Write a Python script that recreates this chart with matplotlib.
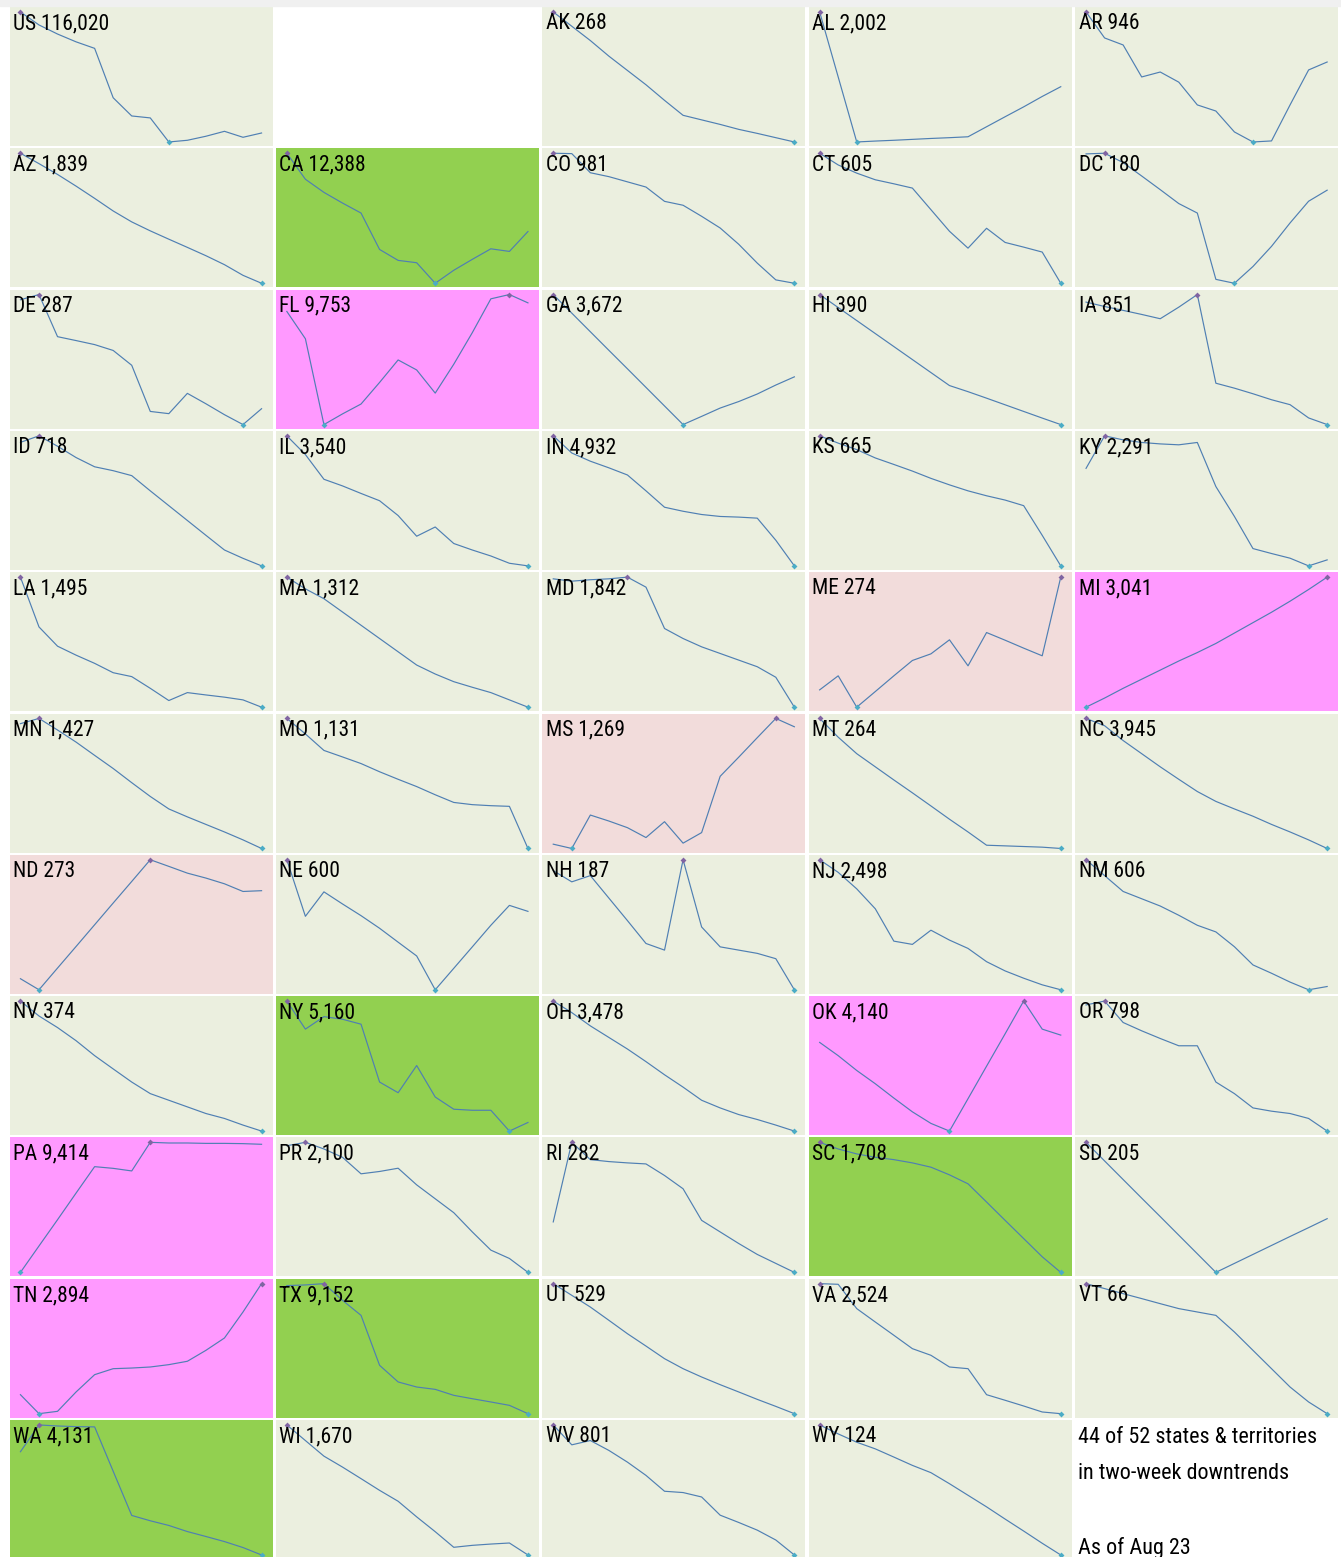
import matplotlib.pyplot as plt
from matplotlib import font_manager
from matplotlib.font_manager import FontProperties

# grid order, 5 columns x 11 rows ("" = empty cell)
codes = ["US", "", "AK", "AL", "AR",
         "AZ", "CA", "CO", "CT", "DC",
         "DE", "FL", "GA", "HI", "IA",
         "ID", "IL", "IN", "KS", "KY",
         "LA", "MA", "MD", "ME", "MI",
         "MN", "MO", "MS", "MT", "NC",
         "ND", "NE", "NH", "NJ", "NM",
         "NV", "NY", "OH", "OK", "OR",
         "PA", "PR", "RI", "SC", "SD",
         "TN", "TX", "UT", "VA", "VT",
         "WA", "WI", "WV", "WY"]
totals = ["116,020", "", "268", "2,002", "946",
          "1,839", "12,388", "981", "605", "180",
          "287", "9,753", "3,672", "390", "851",
          "718", "3,540", "4,932", "665", "2,291",
          "1,495", "1,312", "1,842", "274", "3,041",
          "1,427", "1,131", "1,269", "264", "3,945",
          "273", "600", "187", "2,498", "606",
          "374", "5,160", "3,478", "4,140", "798",
          "9,414", "2,100", "282", "1,708", "205",
          "2,894", "9,152", "529", "2,524", "66",
          "4,131", "1,670", "801", "124"]

# 14 daily values per sparkline (relative height)
US = [100, 90, 83, 77, 72, 34, 20, 18.5, 0, 1.3, 4.4, 8.2, 3.6, 6.9]
AK = [100, 89, 78, 66, 55, 44, 32, 20.5, 17, 13.5, 9.7, 6.6, 3.3, 0]
AL = [100, 50, 0, 0.7, 1.3, 2, 2.7, 3.3, 4, 11.7, 19.4, 27, 35, 42.5]
AR = [100, 80, 74.6, 50, 53.8, 46, 28.5, 23.8, 7.7, 0, 0.8, 28.5, 55.4, 61.5]
AZ = [100, 92, 83.7, 74.7, 65.3, 55.6, 47.2, 40.3, 33.9, 27.6, 21.2, 14.3, 6.1, 0]
CA = [100, 80, 69.9, 61.7, 54, 26, 17.6, 15.8, 0, 10, 18.4, 26.5, 24.5, 39.8]
CO = [100, 99.7, 85, 82, 78, 74, 63, 60, 51.5, 42.5, 30, 15.5, 2.6, 0]
CT = [100, 91, 84.7, 79.6, 76.5, 73.2, 56.6, 40, 27, 42.3, 31.4, 27.8, 24, 0]
DC = [99.5, 100, 92.8, 82.5, 72, 61.3, 54, 3, 0, 12.9, 28.4, 46.4, 63.1, 71.6]
DE = [96, 100, 67.6, 64.6, 61.5, 57, 45.6, 10.1, 8.4, 24, 16, 7.6, 0, 12.2]
FL = [87, 66, 0, 8.2, 15.8, 32.4, 49.7, 42, 24.2, 46.4, 70.7, 96.7, 100, 93.6]
GA = [100, 85.7, 71.4, 57.1, 42.9, 28.6, 14.3, 0, 6.3, 12.7, 17.7, 23.5, 30.4, 36.7]
HI = [100, 90, 80, 70, 60, 50, 40, 30, 25.3, 20.3, 15.2, 10.1, 5, 0]
IA = [94.2, 90.8, 87.8, 84.7, 81.4, 90.3, 100, 31.8, 28, 23.7, 19.1, 15.3, 5.1, 0]
ID = [95, 100, 92, 83.3, 76.2, 73.2, 69.4, 57.7, 46.3, 34.9, 23.5, 12.2, 5.8, 0]
IL = [100, 85.6, 66.6, 61.5, 55.7, 50.1, 38.7, 22.8, 29.9, 17.2, 12.2, 7.6, 2, 0]
IN = [100, 86.8, 80.5, 75.4, 69.9, 57.7, 45.1, 42, 39.5, 38, 37.5, 36.7, 19.7, 0]
KS = [100, 94.4, 89.4, 83, 78, 72.9, 67.3, 62.3, 57.7, 53.9, 50.6, 46.3, 23.5, 0]
KY = [75, 100, 96.9, 94.9, 93.8, 93.1, 94.9, 61, 38, 13.3, 9.5, 5.9, 0, 4.6]
LA = [100, 61.7, 46.9, 40, 33.7, 26.5, 23.5, 14.5, 5.1, 11.2, 9.4, 7.7, 5.6, 0]
MA = [100, 91, 83.4, 73.2, 63, 52.8, 42.6, 32.4, 25.5, 19.6, 15.3, 11.2, 5.6, 0]
MD = [98.7, 96.9, 98, 98.7, 100, 92.3, 60.5, 52.8, 46.4, 41.3, 36.2, 31.1, 23, 0]
ME = [13.3, 24.1, 0, 12, 24.1, 35.9, 41, 51.8, 31.8, 57.4, 51.5, 45.4, 39.5, 100]
MI = [0, 7, 14.5, 21.5, 28.5, 35.5, 42, 49, 57, 65, 73, 81.5, 90.5, 100]
MN = [96, 100, 91.1, 81.8, 71.6, 61.5, 50.6, 40, 30.4, 24.3, 18.5, 12.7, 6.6, 0]
MO = [100, 88.1, 75.4, 70.4, 65.3, 59, 53.2, 47.6, 41.3, 35.4, 33.7, 32.9, 32.4, 0]
MS = [3.3, 0, 25.7, 21.1, 16, 8.4, 20.6, 4.1, 12.2, 55.5, 70.2, 85.2, 100, 93.6]
MT = [100, 85.6, 72.9, 62.8, 52.7, 42.8, 32.7, 22.5, 12.7, 2.5, 2, 1.5, 1, 0]
NC = [100, 94.4, 83, 72.9, 62.8, 53.2, 43.8, 36.2, 30.4, 24.8, 18.5, 12.7, 6.6, 0]
ND = [8.5, 0, 16.7, 33.3, 50, 66.7, 83.3, 100, 94.9, 89.7, 85.9, 81.5, 75.6, 76.2]
NE = [100, 56.5, 75.3, 66, 57, 47.3, 36.6, 26, 0, 16.5, 33, 49.6, 64.9, 60.3]
NH = [91.6, 83, 87.8, 70.5, 53.2, 35.6, 30.5, 100, 48.3, 33, 30.5, 28, 23.9, 0]
NJ = [100, 90.3, 77.6, 62.3, 37.4, 34.9, 45.8, 38.2, 31.8, 21.6, 14.5, 8.9, 3.8, 0]
NM = [100, 87.8, 75.6, 70, 64.4, 57.3, 49.6, 44.5, 33.1, 19.1, 12.7, 5.9, 0, 2.5]
NV = [100, 88.5, 79.6, 69.5, 58, 47.8, 37.7, 28.8, 23.7, 18.6, 13.5, 9.7, 4.6, 0]
NY = [100, 78.4, 88, 86, 82.2, 37.7, 29.5, 50.4, 26.2, 16.8, 16, 16, 0, 6.6]
OH = [100, 91.1, 80.9, 72, 63.1, 53.4, 43.3, 33.8, 23.7, 17.8, 12.7, 8.9, 4.6, 0]
OK = [68.2, 58, 46.6, 36.4, 25.4, 14.8, 5.9, 0, 24.9, 49.9, 74.8, 100, 78.4, 73.8]
OR = [97, 100, 83.5, 77.1, 71.2, 65.6, 65.6, 37.7, 28.8, 17.8, 15.3, 13.5, 9.7, 0]
PA = [0, 20.3, 40.5, 61, 81.3, 80, 78, 100, 99.5, 99.5, 99.2, 99.2, 99, 98.5]
PR = [97.4, 100, 94.9, 88.5, 75.8, 77.6, 80.1, 67.3, 56.6, 45.9, 31.1, 17.1, 10.7, 0]
RI = [38.8, 100, 86.7, 85.2, 84.2, 83.4, 74.5, 64.3, 40, 31.1, 22.2, 13.8, 6.9, 0]
SC = [100, 94.9, 91.1, 88.5, 86.7, 84.2, 80.9, 75, 68.1, 54.1, 40, 26, 12, 0]
SD = [100, 85.7, 71.4, 57.1, 42.9, 28.6, 14.3, 0, 6.9, 13.8, 20.7, 27.6, 34.4, 41.3]
TN = [14.6, 0, 1.8, 16.7, 30, 34.6, 35.1, 35.9, 37.7, 40.3, 48.7, 58.2, 78.2, 100]
TX = [98.5, 99, 100, 87.2, 75.6, 37.2, 24.4, 20.5, 18.7, 14.1, 11.5, 9, 6.4, 0]
UT = [100, 91, 82, 71.8, 61.5, 52, 42.3, 34.6, 28.2, 22.3, 16.7, 11, 5.6, 0]
VA = [100, 99.5, 80.8, 70.5, 60.3, 50, 44.9, 35.9, 34.6, 14.6, 10.3, 5.9, 1.3, 0]
VT = [100, 96.2, 92.3, 88.5, 84.6, 80.8, 78.2, 75.6, 62.8, 48.7, 34.6, 20.5, 9, 0]
WA = [79.4, 100, 99.2, 98.7, 98.5, 64.4, 30.4, 26.3, 22.7, 18, 14.2, 10.3, 5.7, 0]
WI = [100, 88, 76, 67.6, 58.7, 49.7, 41.3, 29.3, 17.9, 5.9, 7.4, 8.4, 9.2, 0]
WV = [100, 84.7, 88, 80.4, 71.4, 61.2, 49, 48, 44.6, 30.6, 25, 19.1, 11.5, 0]
WY = [100, 93.1, 86.7, 81.6, 75.3, 68.9, 63.3, 54.8, 45.9, 37, 27.6, 18.4, 9, 0]

green_states = ["CA", "NY", "SC", "TX", "WA"]
magenta_states = ["FL", "MI", "OK", "PA", "TN"]
pink_states = ["ME", "MS", "ND"]

footer_lines = ["44 of 52 states & territories", "in two-week downtrends"]
footer_date = "As of Aug 23"

series = {
    "US": US, "AK": AK, "AL": AL, "AR": AR, "AZ": AZ, "CA": CA, "CO": CO,
    "CT": CT, "DC": DC, "DE": DE, "FL": FL, "GA": GA, "HI": HI, "IA": IA,
    "ID": ID, "IL": IL, "IN": IN, "KS": KS, "KY": KY, "LA": LA, "MA": MA,
    "MD": MD, "ME": ME, "MI": MI, "MN": MN, "MO": MO, "MS": MS, "MT": MT,
    "NC": NC, "ND": ND, "NE": NE, "NH": NH, "NJ": NJ, "NM": NM, "NV": NV,
    "NY": NY, "OH": OH, "OK": OK, "OR": OR, "PA": PA, "PR": PR, "RI": RI,
    "SC": SC, "SD": SD, "TN": TN, "TX": TX, "UT": UT, "VA": VA, "VT": VT,
    "WA": WA, "WI": WI, "WV": WV, "WY": WY,
}


# look for a narrow / condensed sans, fall back to Liberation Sans
def pick_font():
    prefs = ["Liberation Sans Narrow", "Arial Narrow", "Roboto Condensed",
             "Noto Sans", "Open Sans", "DejaVu Sans"]
    for name in prefs:
        for f in font_manager.fontManager.ttflist:
            if (f.name == name and f.style == "normal"
                    and str(f.stretch) in ("condensed", "semi-condensed")
                    and f.weight in (400, "normal", "regular", "book")):
                return f.fname
    return font_manager.findfont(FontProperties(family="Liberation Sans"))


font_file = pick_font()

W, H = 1341, 1557
fig = plt.figure(figsize=(W / 100, H / 100), dpi=100)
fig.patches.append(plt.Rectangle((0, 1 - 6 / H), 1, 6 / H, transform=fig.transFigure,
                                 color='#f0f0f0', zorder=0))
renderer = fig.canvas.get_renderer()


def fit_size(text, target_px, max_size):
    # size so the text is about target_px wide (capped)
    w = renderer.get_text_width_height_descent(
        text, FontProperties(fname=font_file, size=10), ismath=False)[0]
    return min(max_size, 10 * target_px / w)


label_prop = FontProperties(fname=font_file, size=fit_size("US 116,020", 97, 15.5))
footer_prop = FontProperties(fname=font_file, size=fit_size(footer_lines[0], 236, 17.5))


def panel_axes(i):
    r, c = divmod(i, 5)
    left = 9.5 + c * 266.4
    top = 7 + r * 141.3
    return fig.add_axes([left / W, 1 - (top + 139) / H, 263 / W, 139 / H])


for i, code in enumerate(codes):
    if code == "":
        continue
    ax = panel_axes(i)
    if code in green_states:
        bg = '#92D050'
    elif code in magenta_states:
        bg = '#FF99FF'
    elif code in pink_states:
        bg = '#F2DCDB'
    else:
        bg = '#EBEFDF'
    ax.set_facecolor(bg)
    vals = series[code]
    x = list(range(len(vals)))
    ax.plot(x, vals, color='#4F7FB3', lw=0.85, zorder=2)
    hi = vals.index(max(vals))
    lo = vals.index(min(vals))
    ax.plot(x[hi], vals[hi], marker='D', ms=3, color='#8064A2', mew=0, zorder=3)
    ax.plot(x[lo], vals[lo], marker='D', ms=3, color='#4BACC6', mew=0, zorder=3)
    ax.set_xlim(-0.59, 13.59)
    ax.set_ylim(-3.1, 103.8)
    ax.set_xticks([])
    ax.set_yticks([])
    for s in ax.spines.values():
        s.set_visible(False)
    ax.text(0.013, 0.955, f"{code} {totals[i]}", transform=ax.transAxes,
            ha='left', va='top', fontproperties=label_prop, color='black', zorder=4)

# footer cell
ax = panel_axes(54)
ax.axis('off')
ax.text(0.01, 0.95, footer_lines[0], transform=ax.transAxes, ha='left', va='top',
        fontproperties=footer_prop)
ax.text(0.01, 0.69, footer_lines[1], transform=ax.transAxes, ha='left', va='top',
        fontproperties=footer_prop)
ax.text(0.01, 0.0, footer_date, transform=ax.transAxes, ha='left', va='bottom',
        fontproperties=footer_prop)

fig.savefig("out.png", dpi=100)
